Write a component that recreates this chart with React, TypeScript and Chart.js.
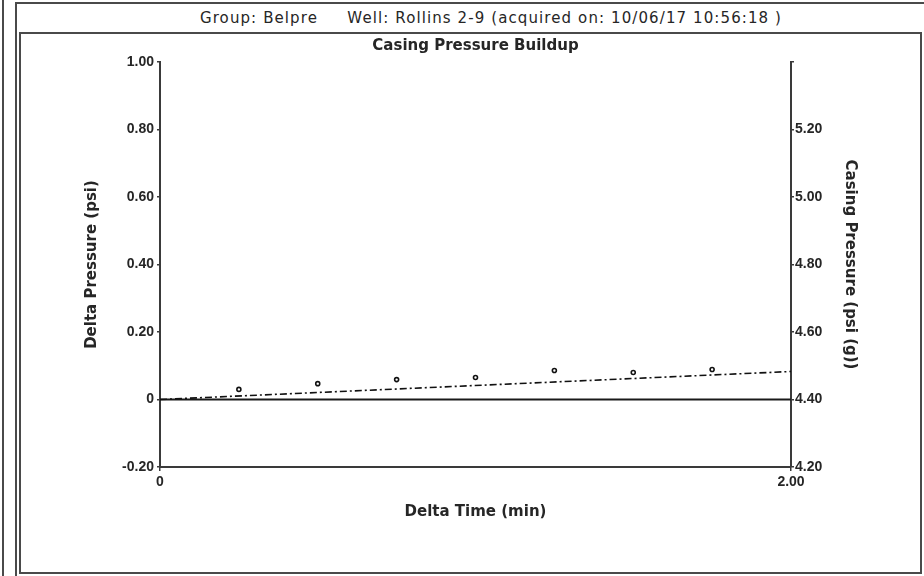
import React, { useEffect, useRef } from "react";
import { Chart, registerables } from "chart.js";

Chart.register(...registerables);

// ---- data ----
const headerText = "Group: Belpre     Well: Rollins 2-9 (acquired on: 10/06/17 10:56:18 )";
const chartTitle = "Casing Pressure Buildup";
const xTitle = "Delta Time (min)";
const yLeftTitle = "Delta Pressure (psi)";
const yRightTitle = "Casing Pressure (psi (g))";

const timeMin = [0.25, 0.5, 0.75, 1.0, 1.25, 1.5, 1.75];
const deltaPressure = [0.03, 0.047, 0.059, 0.065, 0.086, 0.08, 0.089];

const fitTime = [0, 2];
const fitDelta = [0, 0.083];

const casingTime = [0, 2];
const casingPressure = [4.4, 4.4];

const xTickValues = [0, 2];
const xTickLabels = ["0", "2.00"];
const leftMin = -0.2;
const leftMax = 1.0;
const rightMin = 4.2;
const rightMax = 5.4;
const tickStep = 0.2;

const FONT = "'Liberation Sans', Arial, sans-serif";
const WIDE = "'DejaVu Sans', 'Liberation Sans', sans-serif";
const INK = "#262626";
const AXIS = "#3a3a3a";

export default function App() {
  const canvasRef = useRef<HTMLCanvasElement | null>(null);

  useEffect(() => {
    const canvas = canvasRef.current;
    if (!canvas) return;
    const chart = new Chart(canvas, {
      type: "scatter",
      data: {
        datasets: [
          {
            label: "Delta Pressure",
            data: timeMin.map((t, i) => ({ x: t, y: deltaPressure[i] })),
            yAxisID: "y",
            showLine: false,
            pointRadius: 2,
            pointBorderWidth: 1.6,
            pointBackgroundColor: "#ffffff",
            pointBorderColor: "#111111",
          },
          {
            label: "Fit",
            data: fitTime.map((t, i) => ({ x: t, y: fitDelta[i] })),
            yAxisID: "y",
            showLine: true,
            pointRadius: 0,
            borderColor: "#111111",
            borderWidth: 1.6,
            borderDash: [7, 3, 2, 3],
          },
          {
            label: "Casing Pressure",
            data: casingTime.map((t, i) => ({ x: t, y: casingPressure[i] })),
            yAxisID: "y2",
            showLine: true,
            pointRadius: 0,
            borderColor: "#1a1a1a",
            borderWidth: 2,
          },
        ],
      },
      options: {
        responsive: false,
        animation: false,
        events: [],
        layout: { padding: { top: 33, left: 27, right: 0, bottom: 0 } },
        plugins: {
          legend: { display: false },
          tooltip: { enabled: false },
          title: {
            display: true,
            text: chartTitle,
            color: INK,
            font: { family: WIDE, size: 15, weight: "bold" },
            padding: { top: 4, bottom: 7 },
          },
        },
        scales: {
          x: {
            type: "linear",
            position: "bottom",
            min: 0,
            max: 2,
            afterBuildTicks: (scale: any) => {
              scale.ticks = xTickValues.map((v) => ({ value: v }));
            },
            afterFit: (scale: any) => {
              scale.height = 109;
            },
            ticks: {
              color: INK,
              font: { family: FONT, size: 14, weight: "bold" },
              padding: 3,
              maxRotation: 0,
              autoSkip: false,
              callback: (v: any) => {
                const idx = xTickValues.indexOf(Number(v));
                return idx >= 0 ? xTickLabels[idx] : "";
              },
            },
            grid: { drawOnChartArea: false, drawTicks: true, tickLength: 4, color: AXIS, lineWidth: 1.5 },
            border: { color: AXIS, width: 2 },
            title: {
              display: true,
              text: xTitle,
              color: INK,
              font: { family: WIDE, size: 15, weight: "bold" },
              padding: { top: 4, bottom: 55 },
            },
          },
          y: {
            type: "linear",
            position: "left",
            min: leftMin,
            max: leftMax,
            afterFit: (scale: any) => {
              scale.width = 133;
            },
            ticks: {
              stepSize: tickStep,
              color: INK,
              font: { family: FONT, size: 14, weight: "bold" },
              padding: 3,
              callback: (v: any) => {
                const n = Number(v);
                if (Math.abs(n) < 1e-9) return "0";
                return n.toFixed(2);
              },
            },
            grid: { drawOnChartArea: false, drawTicks: true, tickLength: 3, color: AXIS, lineWidth: 1.5 },
            border: { color: AXIS, width: 2 },
            title: {
              display: true,
              text: yLeftTitle,
              color: INK,
              font: { family: WIDE, size: 15, weight: "bold" },
              padding: { top: 56, bottom: 0 },
            },
          },
          y2: {
            type: "linear",
            position: "right",
            min: rightMin,
            max: rightMax,
            afterFit: (scale: any) => {
              scale.width = 133;
            },
            ticks: {
              stepSize: tickStep,
              color: INK,
              font: { family: FONT, size: 14, weight: "bold" },
              padding: 1,
              callback: (v: any) => {
                const n = Number(v);
                if (n > rightMax - 0.01) return "";
                return n.toFixed(2);
              },
            },
            grid: { drawOnChartArea: false, drawTicks: true, tickLength: 3, color: AXIS, lineWidth: 1.5 },
            border: { color: AXIS, width: 2 },
            title: {
              display: true,
              text: yRightTitle,
              color: INK,
              font: { family: WIDE, size: 15, weight: "bold" },
              padding: { top: 65, bottom: 0 },
            },
          },
        },
      },
    });
    return () => chart.destroy();
  }, []);

  const line = "#4a4a4a";
  return (
    <div
      style={{
        position: "fixed",
        left: 0,
        top: 0,
        width: 924,
        height: 576,
        background: "#ffffff",
        overflow: "hidden",
      }}
    >
      <div style={{ position: "absolute", left: 2, top: 0, width: 0, height: 576, borderLeft: `2px solid ${line}` }} />
      <div
        style={{
          position: "absolute",
          left: 15,
          top: 2,
          width: 940,
          height: 600,
          borderLeft: `2px solid ${line}`,
          borderTop: `2px solid ${line}`,
        }}
      />
      <div
        style={{
          position: "absolute",
          left: 19,
          top: 32,
          width: 899,
          height: 538,
          border: `2px solid ${line}`,
        }}
      />
      <div
        style={{
          position: "absolute",
          left: 0,
          top: 9,
          width: 982,
          textAlign: "center",
          whiteSpace: "pre",
          fontFamily: WIDE,
          fontSize: 15,
          letterSpacing: "1.1px",
          lineHeight: "18px",
          color: INK,
        }}
      >
        {headerText}
      </div>
      <canvas
        ref={canvasRef}
        width={924}
        height={576}
        style={{ position: "absolute", left: 0, top: 0, width: 924, height: 576 }}
      />
    </div>
  );
}
